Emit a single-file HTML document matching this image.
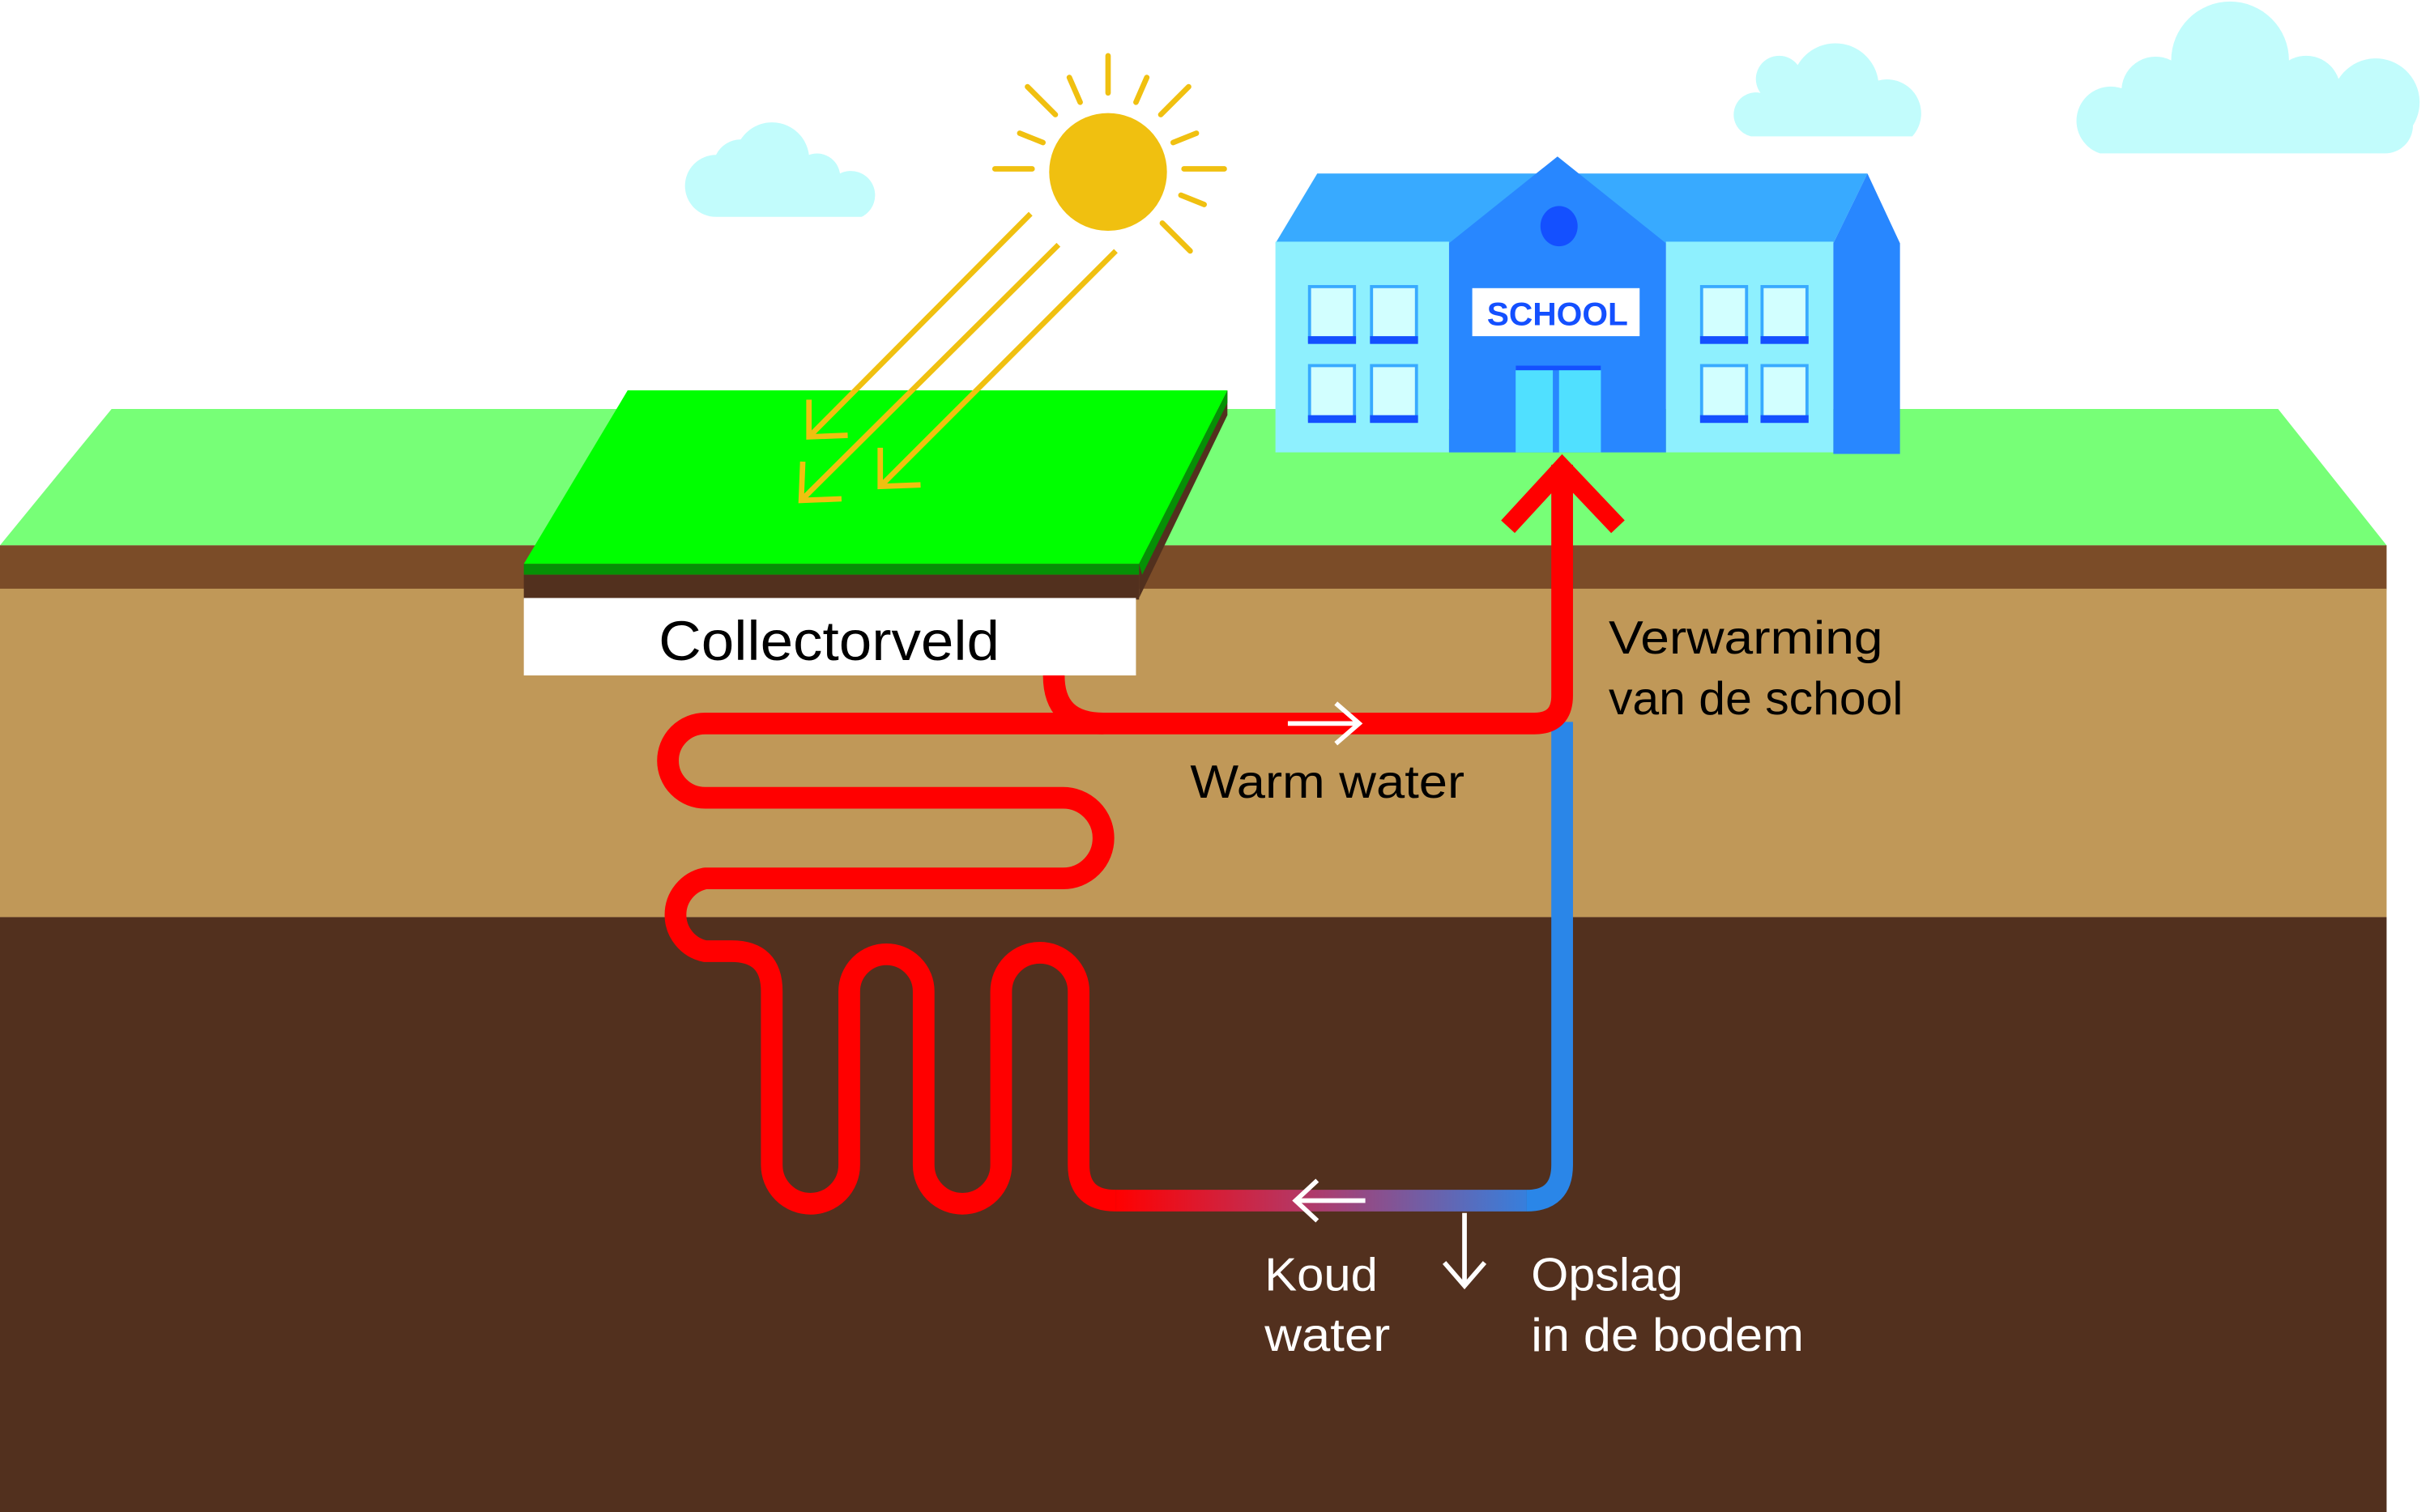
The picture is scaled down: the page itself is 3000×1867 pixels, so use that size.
<!DOCTYPE html>
<html><head><meta charset="utf-8"><style>
html,body{margin:0;padding:0;background:#fff;}
svg{display:block;}
text{font-family:"Liberation Sans",sans-serif;}
</style></head><body>
<svg width="3000" height="1867" viewBox="0 0 1568 976" preserveAspectRatio="none" xmlns="http://www.w3.org/2000/svg">
<defs>
<linearGradient id="g" x1="720" y1="0" x2="1000" y2="0" gradientUnits="userSpaceOnUse">
<stop offset="0" stop-color="#ff0000"/><stop offset="0.45" stop-color="#b03a6a"/><stop offset="1" stop-color="#2a86e8"/>
</linearGradient>
</defs>
<rect width="1568" height="976" fill="#fff"/>
<g fill="#c2fcfc">
<path d="M462,140 a20,20 0 0 1 0,-40 a18,18 0 0 1 16,-10 a24,24 0 0 1 44,10 a15,15 0 0 1 20,12 a14,14 0 0 1 14,28 z"/>
<path d="M1130,88 a14,14 0 0 1 6,-28 a14,14 0 0 1 24,-18 a28,28 0 0 1 52,10 a22,22 0 0 1 22,36 z"/>
<path d="M1355,99 a22,22 0 0 1 14,-42 a22,22 0 0 1 32,-18 a38,38 0 0 1 76,0 a22,22 0 0 1 32,12 a22,22 0 0 1 48,30 a18,18 0 0 1 -18,18 z"/>
</g>
<polygon points="72,264 1470,264 1540,352 0,352" fill="#77ff77"/>
<rect x="0" y="352" width="1540" height="29" fill="#7b4c28"/>
<rect x="0" y="380" width="1540" height="212" fill="#c09858"/>
<rect x="0" y="592" width="1540" height="384" fill="#52301e"/>
<polygon points="823,157 850,112 1205,112 1183,157" fill="#38aaff"/>
<rect x="823" y="156" width="112" height="136" fill="#8ef0fe"/>
<rect x="1075" y="156" width="108" height="136" fill="#8ef0fe"/>
<polygon points="1183,157 1205,112 1226,157 1226,293 1183,293" fill="#2887ff"/>
<polygon points="935,157 1005,101 1075,157 1075,292 935,292" fill="#2887ff"/>
<ellipse cx="1006" cy="146" rx="12" ry="13" fill="#1450ff"/>
<rect x="950" y="186" width="108" height="31" fill="#fff"/>
<text x="1005" y="210" font-size="21" font-weight="bold" fill="#1450ff" text-anchor="middle" textLength="91" lengthAdjust="spacingAndGlyphs">SCHOOL</text>
<rect x="978" y="236" width="55" height="56" fill="#50e0ff"/>
<rect x="1002" y="236" width="4" height="56" fill="#2887ff"/>
<rect x="978" y="236" width="55" height="3" fill="#1450ff"/>
<g fill="#d2ffff" stroke="#38aaff" stroke-width="2">
<rect x="845" y="185" width="29" height="35"/><rect x="885" y="185" width="29" height="35"/>
<rect x="845" y="236" width="29" height="35"/><rect x="885" y="236" width="29" height="35"/>
<rect x="1098" y="185" width="29" height="35"/><rect x="1137" y="185" width="29" height="35"/>
<rect x="1098" y="236" width="29" height="35"/><rect x="1137" y="236" width="29" height="35"/>
</g>
<g fill="#1450ff">
<rect x="844" y="217" width="31" height="5"/><rect x="884" y="217" width="31" height="5"/>
<rect x="844" y="268" width="31" height="5"/><rect x="884" y="268" width="31" height="5"/>
<rect x="1097" y="217" width="31" height="5"/><rect x="1136" y="217" width="31" height="5"/>
<rect x="1097" y="268" width="31" height="5"/><rect x="1136" y="268" width="31" height="5"/>
</g>
<polygon points="792,252 792,268 735,386 735,364" fill="#52301e"/>
<polygon points="405,252 792,252 735,364 338,364" fill="#00ff00"/>
<polygon points="792,252 792,260 737,371 735,364" fill="#069006"/>
<rect x="338" y="364" width="397" height="7" fill="#069006"/>
<rect x="338" y="371" width="397" height="16" fill="#52301e"/>
<rect x="338" y="386" width="395" height="50" fill="#fff"/>
<text x="535" y="426" font-size="36" fill="#000" text-anchor="middle" textLength="220" lengthAdjust="spacingAndGlyphs">Collectorveld</text>
<circle cx="715" cy="111" r="38" fill="#f0c010"/>
<g stroke="#f0c010" stroke-width="3.5" stroke-linecap="round">
<line x1="715" y1="36" x2="715" y2="60"/>
<line x1="642" y1="109" x2="666" y2="109"/><line x1="764" y1="109" x2="790" y2="109"/>
<line x1="663" y1="56" x2="681" y2="74"/><line x1="767" y1="56" x2="749" y2="74"/>
<line x1="750" y1="144" x2="768" y2="162"/>
<line x1="690" y1="50" x2="697" y2="66"/><line x1="740" y1="50" x2="733" y2="66"/>
<line x1="658" y1="86" x2="673" y2="92"/><line x1="772" y1="86" x2="757" y2="92"/>
<line x1="762" y1="126" x2="777" y2="132"/>
</g>
<g stroke="#f0c010" stroke-width="3.5" fill="none">
<line x1="665" y1="138" x2="522" y2="282"/>
<polyline points="522,258 522,282 547,281"/>
<line x1="683" y1="158" x2="517" y2="323"/>
<polyline points="518,298 517,323 543,322"/>
<line x1="720" y1="162" x2="568" y2="314"/>
<polyline points="568,289 568,314 594,313"/>
</g>
<g fill="none" stroke-width="14" stroke-linejoin="round">
<path d="M1008,466 L1008,752 Q1008,775 985,775" stroke="#2a86e8"/>
<path d="M985,775 L720,775" stroke="url(#g)"/>
<path d="M720,775 Q696,775 696,752 L696,640 A25,25 0 0 0 646,640 L646,752 A25,25 0 0 1 596,752 L596,640 A24,24 0 0 0 548,640 L548,752 A25,25 0 0 1 498,752 L498,640 Q498,614 472,614 L455,614 A24,24 0 0 1 455,567 L686,567 A26,26 0 0 0 686,515 L455,515 A24,24 0 0 1 455,467 L990,467 Q1008,467 1008,449 L1008,300" stroke="#ff0000"/>
<path d="M680,436 Q680,467 712,467" stroke="#ff0000"/>
<polyline points="973,340 1008,302 1044,340" stroke="#ff0000" stroke-width="12" stroke-linejoin="miter"/>
</g>
<g stroke="#fff" stroke-width="3" fill="none">
<line x1="831" y1="467" x2="876" y2="467"/><polyline points="862,454 877,467 862,480"/>
<line x1="836" y1="775" x2="881" y2="775"/><polyline points="850,762 836,775 850,788"/>
<line x1="945" y1="783" x2="945" y2="829"/><polyline points="932,815 945,830 958,815"/>
</g>
<g font-size="30" lengthAdjust="spacingAndGlyphs">
<text x="1038" y="422" fill="#000" textLength="177" lengthAdjust="spacingAndGlyphs">Verwarming</text>
<text x="1038" y="461" fill="#000" textLength="190" lengthAdjust="spacingAndGlyphs">van de school</text>
<text x="768" y="515" fill="#000" textLength="177" lengthAdjust="spacingAndGlyphs">Warm water</text>
<text x="816" y="833" fill="#fff" textLength="73" lengthAdjust="spacingAndGlyphs">Koud</text>
<text x="816" y="872" fill="#fff" textLength="81" lengthAdjust="spacingAndGlyphs">water</text>
<text x="988" y="833" fill="#fff" textLength="98" lengthAdjust="spacingAndGlyphs">Opslag</text>
<text x="988" y="872" fill="#fff" textLength="176" lengthAdjust="spacingAndGlyphs">in de bodem</text>
</g>
</svg>
</body></html>
